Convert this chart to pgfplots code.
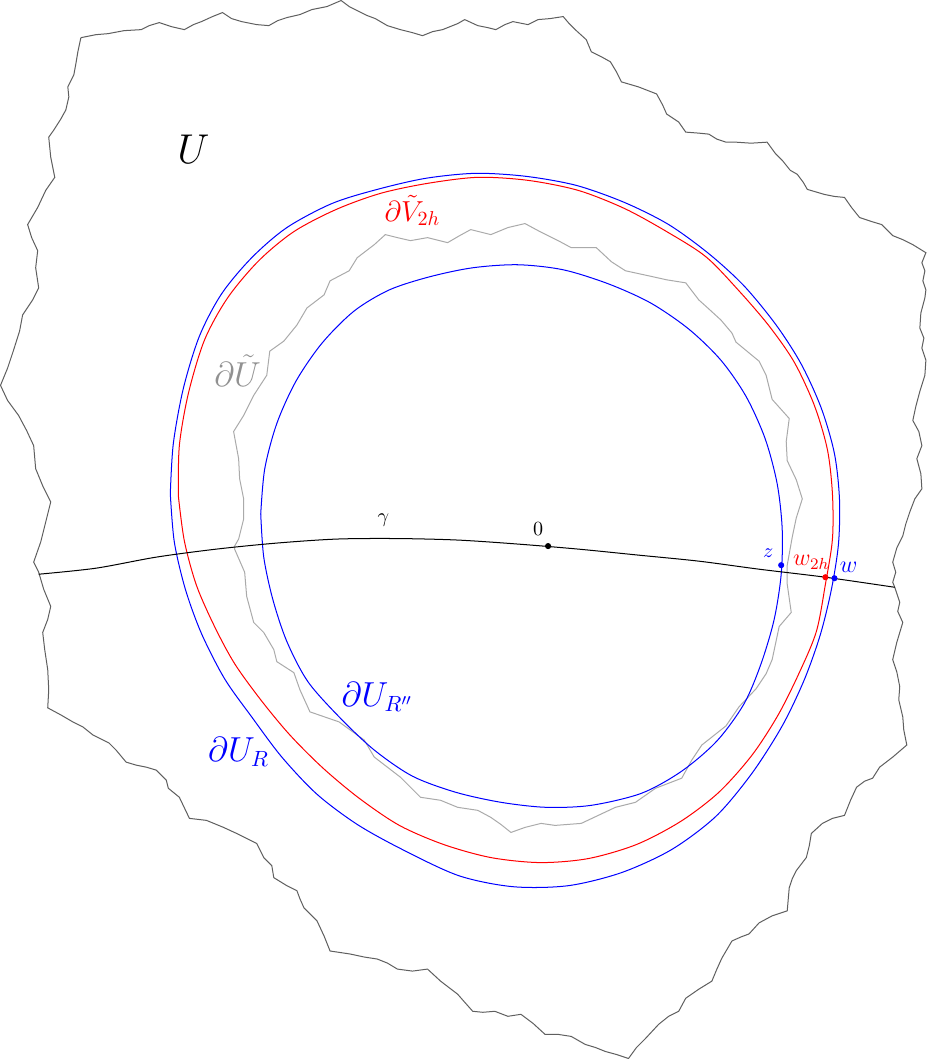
\documentclass[border=0pt]{standalone}
\usepackage{pgfplots}
\pgfplotsset{compat=1.18}
\definecolor{bdark}{RGB}{95,95,95}
\definecolor{blight}{RGB}{170,170,170}
\begin{document}
\begin{tikzpicture}
\begin{axis}[
    width=464.5pt, height=529.5pt, scale only axis,
    xmin=0, xmax=929, ymin=0, ymax=1059, y dir=reverse,
    hide axis, clip=false,
]
% outer boundary of U
\addplot[bdark, line width=0.5pt] coordinates {
(85,41) (100,38) (112,37) (128,34) (145,33) (153,29) (163,26) (175,30) (188,33)
(197,28) (205,25) (216,20) (226,16) (235,22) (245,25) (260,28) (272,29) (281,24)
(290,21) (303,18) (315,13) (330,10) (344,4) (352,10) (360,14) (370,19) (378,22)
(390,29) (403,33) (415,36) (425,39) (435,35) (445,33) (460,27) (467,23) (480,29)
(490,31) (498,33) (507,28) (515,25) (530,28) (540,23) (552,22) (565,20) (571,27)
(577,33) (588,43) (593,55) (603,60) (612,65) (618,75) (623,85) (640,90) (658,97)
(664,108) (668,117) (680,125) (687,135) (700,136) (710,137) (718,142) (727,145)
(737,145) (752,146) (768,145) (776,156) (783,163) (791,173) (798,177) (804,185)
(808,192) (825,197) (835,199) (845,200) (852,210) (860,220) (872,224) (882,227)
(893,238) (903,242) (913,247) (926,255) (922,265) (925,273) (923,283) (926,292)
(925,300) (921,315) (920,330) (924,340) (922,350) (926,362) (925,377) (920,393)
(916,408) (913,422) (919,433) (922,447) (917,460) (921,475) (922,490) (915,500)
(910,513) (906,525) (903,537) (897,549) (893,563) (896,573) (893,583) (895,588)
(900,603) (898,612) (903,623) (900,633) (897,643) (893,660) (897,672) (900,687)
(899,700) (903,717) (904,730) (907,745) (893,757) (880,767) (873,778) (865,781)
(857,787) (851,800) (845,815) (833,818) (823,823) (812,833) (810,845) (807,857)
(797,870) (793,878) (790,887) (788,910) (773,915) (760,922) (750,933) (742,936)
(733,940) (723,957) (718,968) (713,980) (700,988) (687,997) (680,1010) (670,1015)
(660,1023) (647,1037) (638,1046) (630,1057) (618,1053) (607,1050) (597,1046)
(587,1043) (573,1035) (560,1033) (547,1033) (535,1022) (523,1013) (510,1015)
(497,1010) (485,1011) (475,1010) (467,1001) (460,993) (443,980) (430,968)
(415,970) (400,968) (390,962) (380,958) (367,956) (353,953) (333,950) (327,935)
(320,920) (307,907) (303,898) (300,890) (290,885) (277,877) (275,865) (267,857)
(260,843) (240,833) (227,827) (210,820) (193,818) (183,797) (172,788) (170,780)
(160,770) (150,767) (140,765) (130,762) (120,750) (113,743) (97,735) (87,727)
(77,722) (65,715) (52,708) (53,690) (52,670) (49,650) (47,633) (52,620) (55,607)
(48,590) (43,573) (38,563) (45,543) (50,523) (55,503) (47,487) (40,470) (38,447)
(31,432) (23,417) (12,402) (5,387) (12,370) (18,352) (24,333) (27,317) (37,302)
(43,290) (40,270) (42,253) (36,240) (32,227) (42,210) (50,193) (59,180) (55,160)
(53,140) (58,133) (65,122) (70,113) (73,100) (72,90) (78,78) (80,67) (82,55)
(85,41)
};
% inner boundary (tilde U)
\addplot[blight, line width=0.5pt] coordinates {
(238,547) (242,540) (247,520) (247,500) (243,480) (242,460) (237,433) (247,417)
(257,397) (270,377) (273,353) (287,343) (300,327) (310,310) (327,297) (333,283)
(352,273) (360,260) (377,247) (388,237) (400,240) (413,243) (430,240) (450,245)
(462,238) (473,232) (493,237) (510,230) (527,226) (540,233) (560,243) (573,250)
(598,250) (613,264) (627,273) (650,278) (668,282) (687,285) (700,302) (710,311)
(722,322) (733,335) (737,344) (760,363) (767,377) (773,401) (790,420) (787,443)
(788,462) (797,481) (803,500) (797,519) (793,538) (788,566) (788,585) (792,613)
(780,627) (773,660) (767,674) (757,689) (740,707) (727,726) (703,745) (693,760)
(683,778) (657,788) (637,802) (617,807) (600,815) (583,823) (557,825) (543,823)
(527,827) (513,832) (503,824) (493,817) (480,810) (460,807) (443,800) (423,797)
(403,777) (390,767) (377,757) (367,740) (353,730) (342,722) (313,712) (303,690)
(297,673) (280,662) (277,650) (267,633) (257,623) (250,597) (248,573) (238,550)
(238,547)
};
% boundary of U_R''
\addplot[blue, smooth, line width=0.5pt] coordinates {
(264,515) (268,470) (280,425) (299,383) (325,345) (357,313) (392,292) (432,279)
(475,270) (520,267) (565,272) (610,286) (652,305) (690,331) (722,362) (747,398)
(766,440) (778,485) (783,530) (782,575) (775,620) (762,664) (745,704) (718,741)
(683,771) (643,793) (593,805) (548,807) (503,802) (458,792) (415,776) (377,750)
(343,718) (311,682) (290,642) (276,600) (267,558) (264,515)
};
% boundary of tilde V_2h
\addplot[red, smooth, line width=0.5pt] coordinates {
(182,497) (183,447) (192,395) (208,342) (231,300) (262,263) (297,234) (339,212)
(383,196) (430,186) (480,180) (530,183) (580,193) (626,211) (668,234) (707,259)
(740,293) (770,328) (795,364) (815,407) (828,451) (833,495) (833,540) (826,585)
(817,632) (800,673) (779,715) (753,755) (720,792) (682,821) (638,844) (590,858)
(542,862) (493,857) (446,844) (402,825) (362,798) (326,768) (293,735) (264,700)
(238,664) (218,627) (200,586) (188,542) (182,497)
};
% boundary of U_R
\addplot[blue, smooth, line width=0.5pt] coordinates {
(174,495) (177,445) (187,390) (203,338) (225,296) (255,260) (290,230) (335,206)
(380,192) (428,181) (478,176) (528,179) (578,188) (626,205) (670,227) (710,256)
(745,288) (777,327) (802,366) (822,410) (835,455) (840,500) (839,545) (832,590)
(821,635) (805,680) (783,726) (753,773) (717,816) (673,849) (623,872) (570,885)
(515,886) (461,875) (405,849) (360,824) (320,794) (285,757) (255,717) (228,679)
(205,634) (189,590) (178,543) (174,495)
};
% gamma
\addplot[black, smooth, line width=0.5pt] coordinates {
(43,575) (100,569) (160,558) (220,550) (280,544) (340,540) (400,539.5) (460,541)
(520,545) (580,550) (640,556) (700,562) (760,570) (826,578) (895,588)
};
\addplot[only marks, mark=*, mark size=1.3pt, black] coordinates {(550,547)};
\addplot[only marks, mark=*, mark size=1.3pt, blue] coordinates {(782,566) (835,579)};
\addplot[only marks, mark=*, mark size=1.3pt, red] coordinates {(826,578)};

\node at (axis cs:197,152) {\fontsize{22}{26}\selectfont $U$};
\node[red] at (axis cs:415,213) {\fontsize{14.4}{17}\selectfont $\partial\tilde V_{2h}$};
\node[blight!85!black] at (axis cs:241,372) {\fontsize{16}{19}\selectfont $\partial\tilde U$};
\node at (axis cs:386,521) {$\gamma$};
\node at (axis cs:540,530) {$0$};
\node[blue] at (axis cs:769,554) {$z$};
\node[red] at (axis cs:812,563) {\large $w_{2h}$};
\node[blue] at (axis cs:849,568) {\large $w$};
\node[blue] at (axis cs:380,697) {\fontsize{16}{19}\selectfont $\partial U_{R''}$};
\node[blue] at (axis cs:242,752) {\fontsize{16}{19}\selectfont $\partial U_R$};
\end{axis}
\end{tikzpicture}
\end{document}
